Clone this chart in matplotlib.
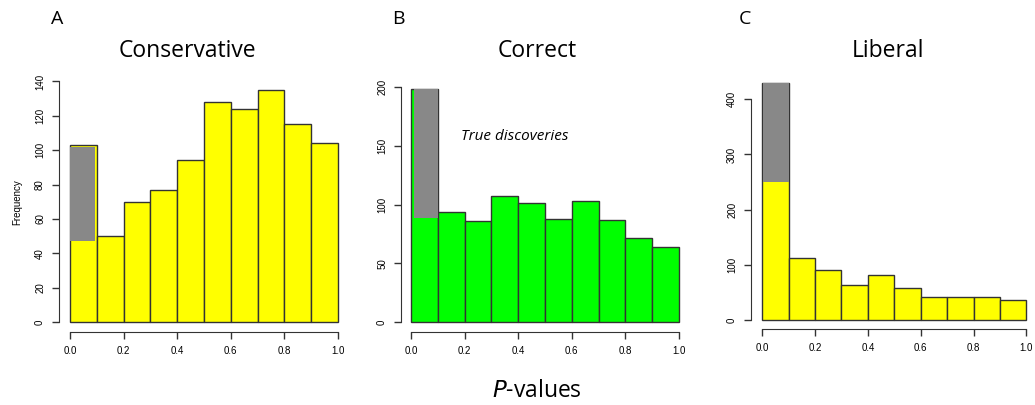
import numpy as np
import matplotlib.pyplot as plt

# bin edges shared by all three histograms
bin_edges = [0.0, 0.1, 0.2, 0.3, 0.4, 0.5, 0.6, 0.7, 0.8, 0.9, 1.0]

conservative = [103, 50, 70, 77, 94, 128, 124, 135, 115, 104]
correct = [198, 94, 86, 107, 101, 88, 103, 87, 72, 64]
liberal = [430, 113, 90, 64, 81, 58, 42, 42, 42, 36]

# grey block in first bin: (x0, x1, bottom, top)
grey_cons = (0.0, 0.094, 47, 102)
grey_corr = (0.011, 0.1, 89, 198)
grey_lib = (0.004, 0.1, 250, 430)

titles = ["Conservative", "Correct", "Liberal"]
letters = ["A", "B", "C"]
yticks_list = [[0, 20, 40, 60, 80, 100, 120, 140], [0, 50, 100, 150, 200], [0, 100, 200, 300, 400]]
xticks = [0.0, 0.2, 0.4, 0.6, 0.8, 1.0]

W, H = 1035, 405
fig = plt.figure(figsize=(W / 100, H / 100), dpi=100)

# pixel boxes: left, right, top, bottom  plus limits
boxes = [
    (59, 348, 72, 332, (-0.041, 1.037), (-5.8, 145.5)),
    (401, 689, 80, 332, (-0.037, 1.037), (-8.3, 206)),
    (751, 1037, 80, 329, (-0.042, 1.04), (-16.3, 435)),
]
title_x = [187, 537, 888]
letter_x = [51, 392, 739]
colors = ["#ffff00", "#00ff00", "#ffff00"]
data = [conservative, correct, liberal]
greys = [grey_cons, grey_corr, grey_lib]

tickfont = "Liberation Sans"
edge = "#333333"

for i in range(3):
    l, r, t, b, xl, yl = boxes[i]
    ax = fig.add_axes([l / W, 1 - b / H, (r - l) / W, (b - t) / H])
    counts = data[i]
    widths = np.diff(bin_edges)
    ax.bar(bin_edges[:-1], counts, width=widths, align="edge", color=colors[i],
           edgecolor=edge, linewidth=1.0, zorder=2)
    gx0, gx1, glo, ghi = greys[i]
    ax.bar([gx0], [ghi - glo], width=gx1 - gx0, bottom=glo, align="edge",
           color="#888888", linewidth=0, zorder=3)
    ax.set_xlim(*xl)
    ax.set_ylim(*yl)
    for s in ["top", "right"]:
        ax.spines[s].set_visible(False)
    ax.spines["left"].set_bounds(yticks_list[i][0], yticks_list[i][-1])
    ax.spines["bottom"].set_bounds(0, 1)
    ax.spines["left"].set_color(edge)
    ax.spines["bottom"].set_color(edge)
    ax.set_xticks(xticks)
    ax.set_xticklabels(["0.0", "0.2", "0.4", "0.6", "0.8", "1.0"])
    ax.set_yticks(yticks_list[i])
    ax.set_yticklabels([str(v) for v in yticks_list[i]], rotation=90, va="center")
    ax.tick_params(length=5, width=1, color=edge, labelsize=7, pad=5)
    for lab in ax.get_xticklabels() + ax.get_yticklabels():
        lab.set_family(tickfont)
    ax.patch.set_visible(False)
    fig.text(title_x[i] / W, 1 - 51 / H, titles[i], ha="center", va="center",
             fontsize=16.5, family="Open Sans")
    fig.text(letter_x[i] / W, 1 - 19 / H, letters[i], ha="left", va="center",
             fontsize=14, family="Open Sans")
    if i == 0:
        ax.set_ylabel("Frequency", fontsize=7, family=tickfont, labelpad=9)
    if i == 1:
        ax.text(0.187, 158, "True discoveries", fontsize=11, style="italic",
                family="Open Sans", ha="left", va="center")

fig.text(537 / W, 1 - 391 / H, "$\\it{P}$-values", ha="center", va="center",
         fontsize=16.5, family="Open Sans")
fig.savefig("out.png", dpi=100)
